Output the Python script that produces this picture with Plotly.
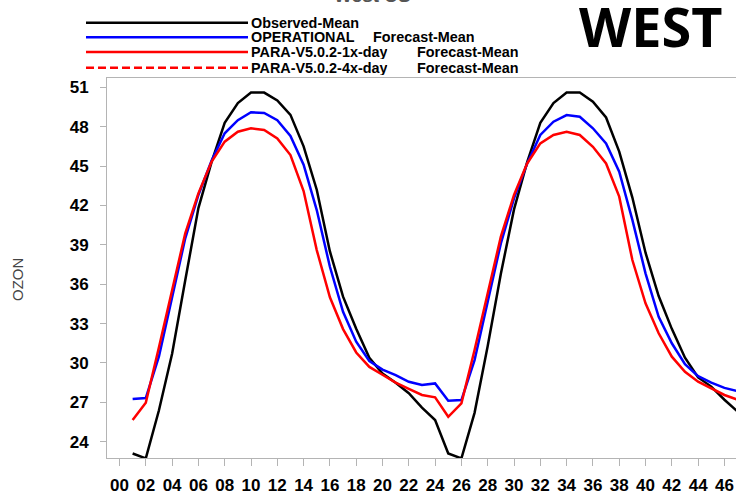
import plotly.graph_objects as go

# ---- data ----
hours = list(range(1, 48))
observed = [23.1, 22.73, 26.4, 30.7, 36.3, 41.8, 45.3, 48.3, 49.8, 50.6,
            50.6, 50.0, 48.9, 46.5, 43.2, 38.5, 35.05, 32.6, 30.4, 29.2,
            28.5, 27.7, 26.6, 25.65, 23.1, 22.73, 26.2, 31.3, 36.8, 41.7,
            45.3, 48.3, 49.8, 50.6, 50.6, 49.9, 48.7, 46.1, 42.6, 38.4,
            35.1, 32.6, 30.4, 28.9, 28.2, 27.2, 26.3]
operational = [27.25, 27.33, 30.5, 35.05, 39.5, 42.8, 45.4, 47.5, 48.5, 49.1,
               49.05, 48.5, 47.3, 45.1, 41.65, 37.33, 33.9, 31.62, 30.15, 29.5,
               29.08, 28.57, 28.32, 28.44, 27.12, 27.17, 30.22, 34.67, 39.11, 42.54,
               45.2, 47.37, 48.38, 48.89, 48.76, 47.88, 46.73, 44.57, 40.9, 36.83,
               33.52, 31.5, 29.9, 29.0, 28.5, 28.1, 27.85]
para_1x = [25.65, 26.97, 31.2, 35.56, 39.88, 42.92, 45.33, 46.86, 47.62, 47.88,
           47.75, 47.11, 45.84, 43.1, 38.6, 35.0, 32.58, 30.8, 29.7, 29.1,
           28.5, 28.03, 27.56, 27.38, 25.9, 26.93, 30.99, 35.31, 39.62, 42.8,
           45.2, 46.73, 47.37, 47.62, 47.37, 46.47, 45.2, 42.67, 37.84, 34.54,
           32.26, 30.48, 29.33, 28.57, 28.07, 27.56, 27.2]

x_tickvals = list(range(0, 47, 2))
x_ticktext = ["00", "02", "04", "06", "08", "10", "12", "14", "16", "18", "20", "22",
              "24", "26", "28", "30", "32", "34", "36", "38", "40", "42", "44", "46"]
y_tickvals = [24, 27, 30, 33, 36, 39, 42, 45, 48, 51]

legend_names = ["Observed-Mean", "OPERATIONAL", "PARA-V5.0.2-1x-day", "PARA-V5.0.2-4x-day"]
legend_suffix = ["", "Forecast-Mean", "Forecast-Mean", "Forecast-Mean"]

# ---- layout geometry (pixels) ----
W, H = 736, 503
L, R, T, B = 107, 0, 78, 45
PW, PH = W - L - R, H - T - B


def px(xp):
    return (xp - L) / PW


def py(yp):
    return (H - B - yp) / PH


fig = go.Figure()
for vals, col in [(observed, "black"), (operational, "#0000ff"), (para_1x, "#ff0000")]:
    fig.add_trace(go.Scatter(x=hours, y=vals, mode="lines",
                             line=dict(color=col, width=2.5), showlegend=False,
                             hoverinfo="skip"))

tick_font = dict(family="Liberation Sans", size=17, color="black", weight="bold")

fig.update_layout(
    width=W, height=H,
    margin=dict(l=L, r=R, t=T, b=B, pad=0),
    plot_bgcolor="white", paper_bgcolor="white",
    showlegend=False,
    xaxis=dict(range=[-0.95, 46.88], tickvals=x_tickvals, ticktext=x_ticktext,
               showgrid=False, zeroline=False, showline=True, linecolor="#b4b4b4",
               linewidth=1, mirror=True, ticks="outside", ticklen=7, tickcolor="#b4b4b4",
               tickfont=tick_font, ticklabelstandoff=5),
    yaxis=dict(range=[22.76, 51.71], tickvals=y_tickvals,
               showgrid=False, zeroline=False, showline=True, linecolor="#b4b4b4",
               linewidth=1, mirror=False, ticks="outside", ticklen=6, tickcolor="#b4b4b4",
               tickfont=tick_font, ticklabelstandoff=8),
)

# custom legend
leg_rows = [22.7, 37.2, 52.0, 67.8]
leg_colors = ["black", "#0000ff", "#ff0000", "#ff0000"]
leg_dash = ["solid", "solid", "solid", "8px,4px"]
suffix_x = [0, 372, 416, 416]
lfont = dict(family="Liberation Sans", size=14.4, color="black", weight="bold")
for i, name in enumerate(legend_names):
    fig.add_shape(type="line", xref="paper", yref="paper",
                  x0=px(86), x1=px(248), y0=py(leg_rows[i]), y1=py(leg_rows[i]),
                  line=dict(color=leg_colors[i], width=2.5, dash=leg_dash[i]))
    fig.add_annotation(xref="paper", yref="paper", x=px(250), y=py(leg_rows[i]),
                       xanchor="left", yanchor="middle", text=name, showarrow=False,
                       font=lfont, height=14, valign="middle", borderpad=0)
    if legend_suffix[i]:
        fig.add_annotation(xref="paper", yref="paper", x=px(suffix_x[i]), y=py(leg_rows[i]),
                           xanchor="left", yanchor="middle", text=legend_suffix[i],
                           showarrow=False, font=lfont, height=14, valign="middle",
                           borderpad=0)

# y-axis title
fig.add_annotation(xref="paper", yref="paper", x=px(17), y=py(280), text="OZON",
                   textangle=-90, showarrow=False, xanchor="center", yanchor="middle",
                   font=dict(family="Liberation Sans", size=15, color="#444444"))

# title, cut off at the very top as in the reference
fig.add_annotation(xref="paper", yref="paper", x=px(372), y=py(8), text="West US",
                   showarrow=False, xanchor="center", yanchor="bottom",
                   font=dict(family="Liberation Sans", size=19, color="#555555", weight="bold"))

# region label
fig.add_annotation(xref="paper", yref="paper", x=px(650), y=py(25.5), text="WEST",
                   showarrow=False, xanchor="center", yanchor="middle", height=46,
                   valign="middle", borderpad=0,
                   font=dict(family="Open Sans", size=54, color="black", weight="bold"))

fig.write_html("out.html")
